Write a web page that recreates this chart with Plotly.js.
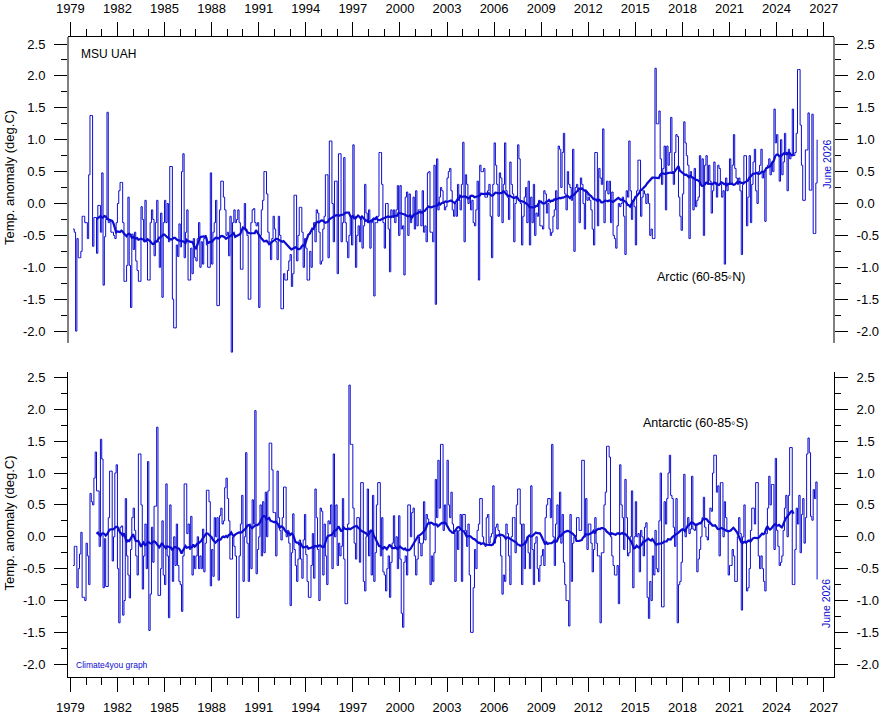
<!DOCTYPE html>
<html>
<head>
<meta charset="utf-8">
<script src="https://cdn.plot.ly/plotly-3.0.1.min.js"></script>
<style>
  html, body { margin: 0; padding: 0; background: #ffffff; }
  #chart { width: 880px; height: 715px; }
</style>
</head>
<body>
<div id="chart"></div>
<script>
// Monthly MSU UAH lower-troposphere temperature anomalies (deg.C).
// First value = first month shown (early 1979), last value = June 2026.
const arctic = [
  -0.4, -0.45, -2.0, -0.55, -0.85, -0.85, -0.75, -0.2, -0.2, -0.3,
  -0.3, -0.55, 0.45, 1.38, 1.38, -0.67, -0.22, -0.22, -0.78, -0.03, -0.03, -0.45,
  0.48, -1.28, -0.52, -0.25, 1.43, -0.3, -0.28, -0.45, -0.45, -0.5, -0.55, -0.3,
  0.0, 0.2, 0.33, 0.33, -0.3, -1.22, -1.22, -0.97, 0.1, -0.97, -1.63, -0.48,
  -0.72, -0.45, -0.9, -1.05, -1.22, -1.22, -0.05, -0.25, -0.6, 0.05, -0.6, -1.2,
  -1.2, -0.3, -0.1, -0.25, -0.82, -0.3, 0.05, -0.6, -1.0, -0.15, -1.47, -0.3,
  0.05, -0.3, 0.0, -0.6, 0.58, 0.58, -1.5, -1.95, -1.95, -0.65, -0.83, -0.32,
  -0.68, 0.5, 0.78, -0.85, -0.45, -0.1, -1.2, -1.2, -0.7, -1.1, -0.55, -0.85,
  -0.9, -0.55, -0.3, -1.0, -0.6, -0.95, -0.55, -0.5, -0.65, -1.0, -1.0, 0.48,
  -0.95, -0.45, -0.3, 0.05, -1.6, -1.6, -0.1, 0.35, 0.35, 0.1, -0.1, -0.5,
  -0.45, -0.82, -0.2, -2.33, -0.3, -0.1, -0.3, -0.25, -0.1, -0.3, -1.03, -1.03,
  -0.4, 0.0, -0.4, -0.5, -1.5, -1.5, -0.3, -0.1, -0.08, -0.3, -0.35, -0.3,
  -1.63, -0.5, -0.1, 0.05, 0.5, 0.5, 0.15, -0.45, -0.6, -0.88, -0.55, -0.2,
  -0.4, -0.6, -0.88, -0.2, -0.5, -1.65, -1.65, -1.1, -1.2, -1.2, -1.05, -0.9,
  -0.8, -1.3, -1.1, 0.13, 0.13, -0.9, -0.5, -0.06, -0.06, -0.45, -1.0, -0.55,
  -0.7, -1.2, -1.2, -0.75, -1.0, -0.4, -0.3, -0.6, -0.1, -0.15, -0.45, -0.95,
  -0.9, -0.4, -0.2, 0.45, 0.45, -0.85, 0.98, 0.98, 0.0, -0.6, 0.35, 0.35,
  -1.1, 0.78, 0.78, -0.6, -0.3, 0.72, -0.3, -0.6, -0.85, -0.5, -0.2, -0.65,
  0.92, -0.2, -1.0, -0.5, -0.35, -0.6, -0.25, -0.7, -0.35, 0.3, -0.15, -0.3,
  -0.1, -0.7, -0.3, -0.25, -1.45, -0.3, -0.3, -0.2, 0.8, 0.8, 0.3, -0.3,
  -0.7, 0.0, 0.0, -0.4, -1.07, -0.1, -0.2, -0.1, -0.3, -0.1, 0.28, -0.5,
  0.28, -0.4, -0.35, -1.12, 0.1, 0.18, -0.5, 0.15, -0.3, -0.2, 0.1, -0.4,
  0.2, -0.35, -0.1, -0.1, -0.35, 0.2, -0.45, -0.35, -0.6, 0.48, 0.5, -0.45,
  -0.45, -0.6, 0.6, -1.58, 0.7, -0.1, 0.1, 0.25, 0.2, 0.0, -0.1, -0.05,
  0.4, 0.5, 0.55, 0.2, -0.1, -0.2, 0.0, -0.2, 0.3, 0.05, -0.1, 0.3,
  0.96, -0.6, 0.45, 0.3, 0.0, 0.1, -0.1, 0.05, -0.3, -0.35, -0.1, 0.35,
  -1.2, 0.6, 0.5, 0.5, 0.55, 0.1, 0.1, 0.2, 0.3, -0.2, -0.85, 0.3,
  0.95, 0.6, 0.3, -0.2, 0.48, 0.4, -0.3, 0.3, 0.95, 0.2, 0.1, -0.25,
  0.65, 0.3, 0.15, -0.6, 0.0, 0.1, 0.92, 0.7, 0.0, -0.65, -0.2, 0.1,
  0.25, -0.3, 0.35, -0.65, 0.1, -0.3, 0.3, -0.5, -0.15, -0.2, 0.05, -0.35,
  -0.35, -0.4, 0.2, 0.15, -0.15, 0.0, -0.4, -0.5, -0.45, -0.2, -0.1, 0.2,
  -0.4, 0.9, 0.85, 0.25, 0.8, 1.1, 0.15, -0.1, 0.5, 0.3, 0.25, 0.05,
  0.85, -0.75, 0.25, 0.3, 0.2, -0.3, 0.4, 0.3, 0.0, -0.4, 0.2, 0.05,
  0.1, 0.05, -0.1, -0.4, -0.65, 0.8, 0.8, -0.35, 0.55, 0.4, 0.3, 1.17,
  -0.3, 0.2, 0.35, 0.15, 0.35, -0.3, 0.18, -0.5, -0.55, -0.7, -0.35, 0.0,
  -0.05, 0.0, 0.1, -0.2, -0.8, 0.2, 0.1, 0.98, 0.2, -0.25, 0.05, -0.05,
  -0.65, 0.2, 0.68, 0.68, -0.2, 0.1, 0.2, 0.15, 0.0, 0.15, 0.0, -0.5,
  -0.4, -0.55, -0.55, 2.12, 1.25, 1.25, 1.45, 0.7, 0.3, 0.55, 0.9, -0.1,
  0.9, 0.6, 0.8, 1.35, 0.5, 0.3, 0.8, 1.08, 1.05, 0.1, -0.2, -0.42,
  0.15, 1.28, 0.95, 0.75, 0.6, -0.55, 0.5, 0.4, -0.1, 0.55, -0.05, 0.05,
  0.1, 0.75, 0.3, 0.7, -0.5, 0.6, 0.75, 0.3, 0.6, 0.35, -0.15, 0.2,
  0.65, 0.3, 0.1, 0.6, 0.55, 0.3, 0.1, 0.2, -0.95, 0.4, 0.2, 0.3,
  0.7, 0.3, 0.6, 1.08, 0.55, 0.4, 0.3, 0.4, 0.2, -0.8, 0.3, 0.75,
  0.75, -0.35, 0.1, 0.75, -0.3, 0.3, 0.65, 0.85, 0.2, 0.0, 0.5, 0.6,
  0.85, 0.4, 0.5, -0.28, 0.55, 0.6, 0.7, 0.45, 0.65, 0.5, 1.48, 0.95,
  1.08, 0.75, 0.35, 1.0, 0.45, 0.65, 1.1, 0.8, 0.2, 0.85, 0.7, 0.75,
  1.48, 0.75, 0.8, 1.1, 2.1, 2.1, 1.23, 0.6, 0.05, 0.05, 0.84, 0.84,
  1.42, 0.21, 0.21, 1.4, -0.47, -0.47, 0.32, 1.0
];

const antarctic = [
  -0.45, -0.15, -0.15, -0.8, -0.5, -0.27, 0.07, -0.95, -0.95, -1.0,
  -0.1, -0.3, -0.75, 0.68, 0.55, 0.5, 0.92, 1.33, 0.72, 0.72, -0.15, 1.53,
  1.22, -0.8, -0.03, -0.78, -0.78, 0.3, 1.03, 1.03, -0.38, 0.0, 1.0, 1.13,
  -0.5, -1.35, 0.15, 0.17, -1.23, -1.0, 0.6, -0.3, -0.6, -0.96, -0.2, 0.3,
  0.45, 0.1, -0.3, -0.6, 1.3, 1.3, 0.5, -0.82, -0.3, 0.2, -0.5, 1.18,
  -1.47, -0.9, 0.15, -0.4, 0.48, 0.48, 1.72, -0.92, -0.92, -0.5, 0.25, -0.6,
  -0.75, 0.83, -0.3, -1.27, 0.5, -0.2, -0.7, 0.0, -0.45, 0.2, -0.45, -0.7,
  -0.75, -1.17, -0.3, 0.83, 0.83, 0.05, 0.2, -0.2, 0.32, -0.6, -0.3, -0.5,
  -0.3, 0.0, -0.5, -0.3, -0.5, 0.12, -0.55, -0.1, 0.73, 0.73, 0.55, -0.77,
  -0.2, -0.62, 0.3, 0.0, 0.3, -0.68, 0.33, 0.45, 0.2, 0.25, 0.77, 0.92,
  0.6, 0.25, -0.35, -0.35, 0.0, -0.15, -0.3, -1.27, -1.27, -0.3, 0.2, 0.65,
  -0.7, 0.0, 1.32, -0.1, -0.7, 0.2, -0.5, 0.58, 0.2, 1.98, -0.58, -0.2,
  0.0, 0.5, -0.3, 0.55, -0.25, 0.7, 0.0, 0.72, 1.47, 1.47, 1.05, 0.38,
  0.38, -0.3, 1.03, 0.3, 0.1, -0.05, 0.3, 0.78, 0.78, 0.0, 0.1, -0.1,
  -1.08, -0.25, 0.36, -0.2, -0.45, -0.7, -0.35, -0.05, -0.35, -0.65, -0.05, 0.35,
  -0.28, -0.7, -0.95, -0.95, -0.45, 0.05, -0.65, 0.75, 0.3, -0.2, -1.0, 0.45,
  0.4, -0.6, 0.2, -0.3, -0.75, 0.25, 0.2, 0.5, -0.5, 1.3, 0.0, 0.5,
  -0.45, -0.1, -0.3, -0.15, 0.6, -0.35, -1.05, -1.05, 0.2, 2.38, 1.45, 1.45,
  0.45, -0.1, -0.35, 0.3, 0.3, -0.4, 0.85, 0.85, -0.7, -0.85, 0.0, 0.75,
  -0.3, 0.1, -0.6, 0.65, -0.7, -0.25, 0.5, 0.85, 0.85, -0.3, 0.3, -0.55,
  -0.6, -0.85, -0.5, -0.3, -0.95, -0.4, -0.1, 0.33, -0.15, 0.0, -0.5, 0.33,
  -0.35, -1.2, -1.42, -0.4, -0.3, -0.6, 0.5, 0.5, 0.0, 0.38, 0.45, -0.3,
  -0.6, -0.35, 0.0, -0.1, -0.3, -0.1, 0.55, -0.05, 0.35, 0.28, 0.2, -0.75,
  -0.3, -0.7, -0.25, 0.9, 0.3, 1.2, 0.45, 1.45, 1.45, 0.1, 0.5, 0.2,
  1.2, 0.5, 0.3, 0.7, 0.2, 0.05, -0.7, 0.1, -0.2, 0.1, 0.35, -0.7,
  0.35, 0.35, 0.1, -0.15, 0.2, -0.6, -1.5, -1.5, -0.8, -0.2, -0.5, 0.1,
  0.2, 0.6, 0.6, 0.0, -0.1, -0.15, 0.3, 0.35, -0.1, 0.0, 0.05, 0.8,
  -0.1, 0.15, 0.2, 0.1, 0.0, -0.3, -0.9, -0.6, -0.7, 0.2, 0.05, -0.3,
  -0.75, 0.0, 0.3, 0.3, -0.25, 0.5, 0.75, 0.75, 0.2, -0.75, 0.2, -0.5,
  -0.1, 0.0, -0.25, -0.5, 0.8, -0.2, -0.75, -0.1, 0.0, -0.5, -0.7, -0.45,
  -0.3, -0.2, -0.45, 0.3, 0.5, 0.6, 0.6, 0.3, 1.45, 0.0, -0.45, 0.2,
  0.5, 0.0, 0.7, -0.1, 0.35, -0.4, -0.75, -1.0, -1.0, -1.4, 0.35, -0.7,
  -0.1, 0.0, 0.0, 0.3, 0.3, 0.1, 0.1, 1.2, 1.2, 0.0, 0.6, -0.2,
  0.2, 0.2, -0.1, -0.55, -0.2, 0.3, -0.1, -0.3, -0.3, -1.35, -0.25, -0.25,
  0.5, 0.7, 1.42, 1.42, 1.25, 0.0, -0.3, -0.45, -0.6, -0.6, -0.45, -1.05,
  1.13, 0.5, 0.3, -0.2, 0.9, 0.3, -0.3, -0.25, 0.0, 0.72, -0.8, 0.0,
  0.55, 0.0, 0.05, -0.55, 0.1, 0.0, -0.3, 0.15, 0.22, -0.95, -1.28, -0.7,
  -1.0, -0.3, -0.6, 0.1, -0.5, -0.55, 0.25, 1.0, -1.1, -1.1, 0.55, 0.2,
  0.6, 1.0, 1.28, 0.65, 0.6, 0.15, -0.15, 0.6, -1.35, -0.75, -0.7, -0.4,
  0.1, 0.98, 0.0, 0.15, 0.3, 0.05, 0.12, 0.95, 0.12, 0.1, 0.2, -0.55,
  -0.35, -0.2, 0.0, 0.3, 0.62, 0.15, 0.0, -0.05, 0.2, 0.45, 0.4, 1.0,
  1.28, 1.28, 0.7, 0.8, -0.3, 0.85, 0.85, 0.0, 0.55, 0.3, 0.1, -0.6,
  -0.45, -0.45, -0.2, -0.3, -0.7, -0.7, 0.0, 0.3, 0.05, -1.15, 0.0, 0.5,
  -0.1, -0.85, -0.8, -0.5, 0.1, 0.45, 0.45, 0.2, 0.85, 0.85, -0.3, -0.5,
  -0.3, -0.5, -0.7, -0.85, 0.05, 0.45, 0.95, 0.5, 0.82, 0.82, -0.2, 1.23,
  0.1, -0.15, -0.45, -0.4, -0.3, 0.1, 0.45, 0.65, 0.0, 0.65, 1.4, 1.4,
  -0.75, -0.75, -0.2, 0.45, 0.2, 0.65, -0.25, 0.35, 0.6, -0.1, 0.3, 1.3,
  1.55, 1.32, 0.32, 0.26, 0.74, 0.6, 0.86, -0.67
];

const yearTicks = [1979, 1982, 1985, 1988, 1991, 1994, 1997, 2000, 2003, 2006, 2009, 2012, 2015, 2018, 2021, 2024, 2027];
const valueTicks = [-2.0, -1.5, -1.0, -0.5, 0.0, 0.5, 1.0, 1.5, 2.0, 2.5];
const firstMonthX = 1979 + 2 / 12;   // plotting position of the first monthly value
const runningWindow = 37;            // months in the centred running mean

// ---- derived series ----
function monthX(n) { const xs = []; for (let i = 0; i < n; i++) xs.push(firstMonthX + i / 12); return xs; }
function runningMean(vals, win) {
  const half = Math.floor(win / 2), xs = [], ys = [], allX = monthX(vals.length);
  for (let i = half; i < vals.length - half; i++) {
    let s = 0; for (let k = i - half; k <= i + half; k++) s += vals[k];
    xs.push(allX[i]); ys.push(s / win);
  }
  return { x: xs, y: ys };
}

const blue = '#0c0cd0';
const arcX = monthX(arctic.length), antX = monthX(antarctic.length);
const arcMean = runningMean(arctic, runningWindow), antMean = runningMean(antarctic, runningWindow);

const traces = [
  { x: arcX, y: arctic, xaxis: 'x', yaxis: 'y', type: 'scatter', mode: 'lines',
    line: { shape: 'hv', color: blue, width: 1 }, hoverinfo: 'skip', showlegend: false },
  { x: arcMean.x, y: arcMean.y, xaxis: 'x', yaxis: 'y3', type: 'scatter', mode: 'lines',
    line: { color: blue, width: 2.2 }, hoverinfo: 'skip', showlegend: false },
  { x: antX, y: antarctic, xaxis: 'x2', yaxis: 'y2', type: 'scatter', mode: 'lines',
    line: { shape: 'hv', color: blue, width: 1 }, hoverinfo: 'skip', showlegend: false },
  { x: antMean.x, y: antMean.y, xaxis: 'x2', yaxis: 'y4', type: 'scatter', mode: 'lines',
    line: { color: blue, width: 2.2 }, hoverinfo: 'skip', showlegend: false }
];

const FONT = 'Liberation Sans, Arial, sans-serif';
const tickFont = { family: FONT, size: 13, color: '#000' };
const yMinorVals = valueTicks.slice(0, -1).map(v => v + 0.25);
const yTickText = valueTicks.map(v => v.toFixed(1));

function xAxis(anchor, side) {
  return {
    anchor: anchor, side: side, domain: [0, 1], range: [1978.85, 2027.66],
    tickmode: 'array', tickvals: yearTicks, ticktext: yearTicks.map(String),
    ticks: 'outside', ticklen: 14, tickwidth: 1, tickcolor: '#000',
    minor: { ticks: 'outside', ticklen: 7, tickwidth: 1, tickcolor: '#000', dtick: 1, tick0: 1979, showgrid: false },
    showline: true, linecolor: '#000', linewidth: 1, mirror: false,
    showgrid: false, zeroline: false, tickfont: tickFont, ticklabelstandoff: 4, fixedrange: true
  };
}
function yAxis(anchor, side, domain, range, overlay, showline) {
  const a = {
    anchor: anchor, side: side, range: range,
    tickmode: 'array', tickvals: valueTicks, ticktext: yTickText,
    ticks: 'outside', ticklen: 13, tickwidth: 1, tickcolor: '#000',
    minor: { ticks: 'outside', ticklen: 6, tickwidth: 1, tickcolor: '#000', tickmode: 'array', tickvals: yMinorVals, showgrid: false },
    showline: showline, linecolor: '#000', linewidth: 1,
    showgrid: false, zeroline: false, tickfont: tickFont, ticklabelstandoff: 6, fixedrange: true
  };
  if (overlay) a.overlaying = overlay; else a.domain = domain;
  return a;
}

const topRange = [-2.4, 2.61];
const botRange = [-2.2, 2.59];

const layout = {
  width: 880, height: 715,
  margin: { l: 68, r: 46, t: 37, b: 38, pad: 0 },
  paper_bgcolor: '#fff', plot_bgcolor: '#fff',
  font: { family: FONT, size: 13, color: '#000' },
  showlegend: false,
  xaxis: xAxis('y', 'top'),
  xaxis2: xAxis('y2', 'bottom'),
  yaxis: yAxis('x', 'left', [0.5006, 1], topRange, null, false),
  yaxis3: yAxis('x', 'right', null, topRange, 'y', false),
  yaxis2: yAxis('x2', 'left', [0, 0.477], botRange, null, true),
  yaxis4: yAxis('x2', 'right', null, botRange, 'y2', true),
  shapes: [
    { type: 'line', xref: 'paper', yref: 'y', x0: 0, x1: 0, y0: -2.186, y1: 2.61, line: { color: '#000', width: 1 } },
    { type: 'line', xref: 'paper', yref: 'y', x0: 1, x1: 1, y0: -2.186, y1: 2.61, line: { color: '#000', width: 1 } }
  ],
  annotations: [
    { text: 'MSU UAH', xref: 'paper', yref: 'paper', x: 0.0144, y: 0.9734, xanchor: 'left', yanchor: 'middle',
      showarrow: false, font: { family: FONT, size: 12, color: '#000' } },
    { text: 'Arctic (60-85\u25E6N)', xref: 'paper', yref: 'paper', x: 0.8266, y: 0.6255, xanchor: 'center', yanchor: 'middle',
      showarrow: false, font: { family: FONT, size: 12.5, color: '#000' } },
    { text: 'Antarctic (60-85\u25E6S)', xref: 'paper', yref: 'paper', x: 0.8196, y: 0.3973, xanchor: 'center', yanchor: 'middle',
      showarrow: false, font: { family: FONT, size: 12.5, color: '#000' } },
    { text: 'Climate4you graph', xref: 'paper', yref: 'paper', x: 0.0078, y: 0.0188, xanchor: 'left', yanchor: 'middle',
      showarrow: false, font: { family: FONT, size: 8.5, color: blue } },
    { text: 'June 2026', xref: 'paper', yref: 'paper', x: 0.9905, y: 0.8016, xanchor: 'center', yanchor: 'middle', textangle: -90,
      showarrow: false, font: { family: FONT, size: 10.5, color: blue } },
    { text: 'June 2026', xref: 'paper', yref: 'paper', x: 0.9905, y: 0.1152, xanchor: 'center', yanchor: 'middle', textangle: -90,
      showarrow: false, font: { family: FONT, size: 10.5, color: blue } },
    { text: 'Temp. anomaly (deg.C)', xref: 'paper', yref: 'paper', x: -0.0757, y: 0.7797, xanchor: 'center', yanchor: 'middle', textangle: -90,
      showarrow: false, font: { family: FONT, size: 13, color: '#000' } },
    { text: 'Temp. anomaly (deg.C)', xref: 'paper', yref: 'paper', x: -0.0757, y: 0.2398, xanchor: 'center', yanchor: 'middle', textangle: -90,
      showarrow: false, font: { family: FONT, size: 13, color: '#000' } }
  ]
};

Plotly.newPlot('chart', traces, layout, { displayModeBar: false, staticPlot: true });
</script>
</body>
</html>
